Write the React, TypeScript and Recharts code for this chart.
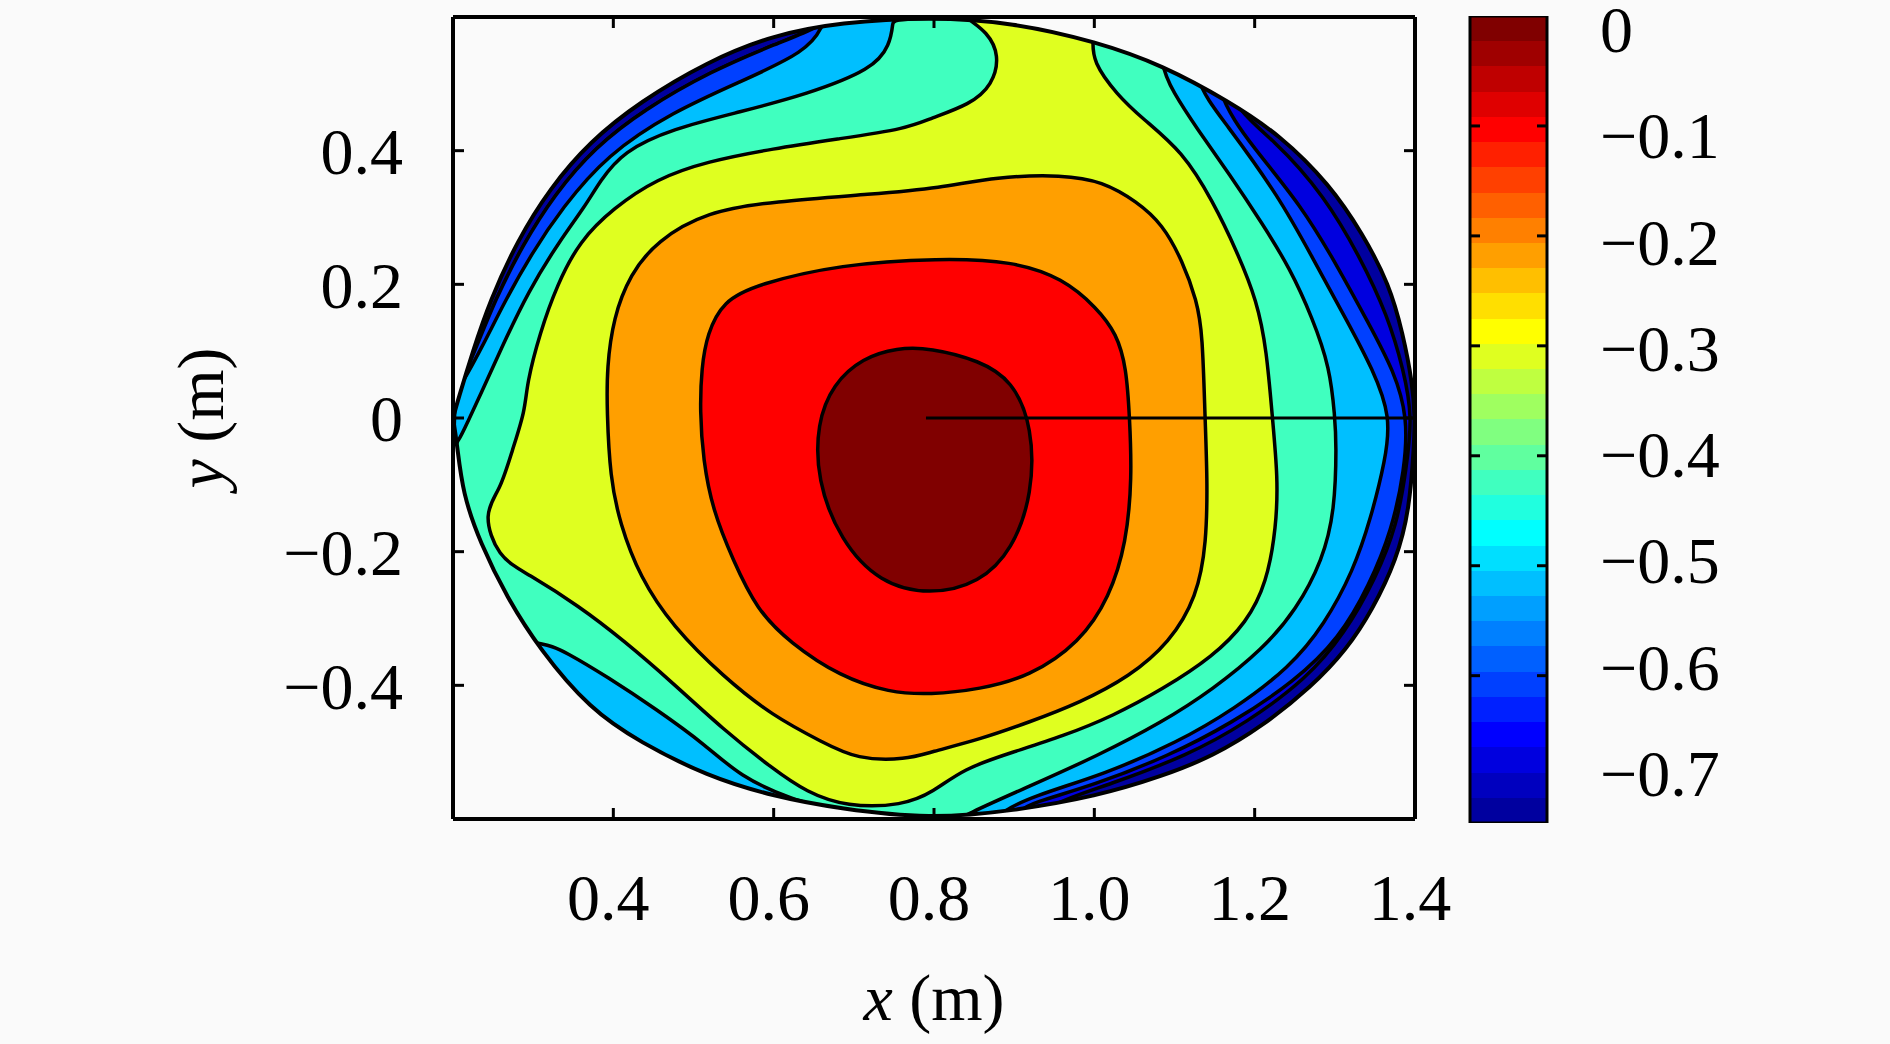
import React from "react";
import { ScatterChart, Scatter, XAxis, YAxis, BarChart, Bar } from "recharts";

// ===== data: contour regions, [x, y] in metres =====
// each region is the area above one contour level; they are painted
// from the outside in, and a paper-coloured mask trims them to the disc.

const rimOutline = [
  [0.2, 0], [0.206, 0.026], [0.225, 0.101], [0.246, 0.175], [0.28, 0.265],
  [0.321, 0.344], [0.371, 0.414], [0.433, 0.473], [0.517, 0.533], [0.599, 0.573],
  [0.683, 0.592], [0.795, 0.6], [0.898, 0.592], [1.003, 0.563], [1.085, 0.528],
  [1.169, 0.473], [1.231, 0.424], [1.294, 0.349], [1.335, 0.275], [1.368, 0.2],
  [1.385, 0.126], [1.397, 0.051], [1.4, 0], [1.399, -0.038], [1.393, -0.138],
  [1.377, -0.212], [1.347, -0.287], [1.315, -0.346], [1.272, -0.401], [1.21, -0.461],
  [1.148, -0.506], [1.085, -0.536], [1.003, -0.566], [0.898, -0.588], [0.795, -0.6],
  [0.683, -0.585], [0.599, -0.566], [0.517, -0.536], [0.433, -0.485], [0.371, -0.436],
  [0.308, -0.346], [0.267, -0.268], [0.234, -0.187], [0.212, -0.113], [0.205, -0.038],
];

const bandDarkBlue = [
  [0.205, 0.038], [0.23, 0.108], [0.252, 0.175], [0.286, 0.257], [0.327, 0.335],
  [0.377, 0.405], [0.439, 0.462], [0.522, 0.519], [0.601, 0.559], [0.662, 0.587],
  [0.662, 0.6], [1.156, 0.6], [1.156, 0.481], [1.227, 0.414], [1.287, 0.332],
  [1.331, 0.242], [1.366, 0.153], [1.386, 0.071], [1.397, 0.001], [1.389, -0.076],
  [1.378, -0.159], [1.351, -0.24], [1.312, -0.323], [1.265, -0.39], [1.19, -0.456],
  [1.116, -0.505], [1.02, -0.548], [0.938, -0.58], [0.938, -0.6], [0.2, -0.6],
  [0.2, 0.038],
];

const bandBlue = [
  [0.205, 0.038], [0.23, 0.108], [0.252, 0.175], [0.286, 0.257], [0.327, 0.335],
  [0.377, 0.405], [0.439, 0.462], [0.522, 0.519], [0.601, 0.559], [0.662, 0.587],
  [0.662, 0.6], [1.148, 0.6], [1.148, 0.488], [1.2, 0.402], [1.258, 0.318],
  [1.302, 0.23], [1.342, 0.142], [1.374, 0.07], [1.391, 0.001], [1.387, -0.078],
  [1.371, -0.168], [1.343, -0.25], [1.306, -0.329], [1.25, -0.394], [1.171, -0.457],
  [1.092, -0.506], [1.0, -0.549], [0.922, -0.576], [0.907, -0.587], [0.907, -0.6],
  [0.2, -0.6], [0.2, 0.038],
];

const bandLightBlue = [
  [0.205, 0.038], [0.236, 0.105], [0.263, 0.171], [0.298, 0.246], [0.336, 0.314],
  [0.392, 0.394], [0.474, 0.458], [0.558, 0.503], [0.641, 0.548], [0.662, 0.587],
  [0.662, 0.6], [1.123, 0.6], [1.123, 0.503], [1.163, 0.443], [1.231, 0.33],
  [1.272, 0.24], [1.314, 0.148], [1.348, 0.072], [1.37, 0.001], [1.363, -0.063],
  [1.345, -0.15], [1.323, -0.229], [1.287, -0.309], [1.244, -0.373], [1.174, -0.436],
  [1.104, -0.485], [1.013, -0.533], [0.922, -0.566], [0.882, -0.591], [0.882, -0.6],
  [0.2, -0.6], [0.2, 0.038],
];

const bandAqua = [
  [0.749, 0.6], [1.082, 0.6], [1.082, 0.529], [1.098, 0.488], [1.128, 0.433],
  [1.169, 0.364], [1.21, 0.29], [1.244, 0.224], [1.272, 0.15], [1.294, 0.075],
  [1.3, 0.001], [1.302, -0.038], [1.3, -0.138], [1.285, -0.212], [1.252, -0.287],
  [1.21, -0.346], [1.148, -0.406], [1.085, -0.455], [1.003, -0.506], [0.919, -0.551],
  [0.836, -0.595], [0.836, -0.6], [0.683, -0.6], [0.683, -0.59], [0.62, -0.57],
  [0.558, -0.536], [0.517, -0.491], [0.454, -0.436], [0.392, -0.387], [0.342, -0.351],
  [0.308, -0.332], [0.2, -0.332], [0.2, -0.038], [0.206, -0.038], [0.219, -0.004],
  [0.234, 0.034], [0.259, 0.101], [0.294, 0.19], [0.333, 0.265], [0.365, 0.317],
  [0.383, 0.354], [0.412, 0.399], [0.474, 0.433], [0.558, 0.458], [0.641, 0.484],
  [0.724, 0.522], [0.745, 0.558], [0.749, 0.592],
];

const bandYellow = [
  [0.842, 0.6], [1.0, 0.6], [0.998, 0.566], [0.998, 0.533], [1.028, 0.484],
  [1.06, 0.448], [1.11, 0.399], [1.148, 0.324], [1.178, 0.249], [1.203, 0.175],
  [1.215, 0.101], [1.222, 0.001], [1.229, -0.089], [1.227, -0.163], [1.215, -0.247],
  [1.19, -0.306], [1.148, -0.357], [1.085, -0.406], [1.023, -0.446], [0.961, -0.476],
  [0.898, -0.5], [0.836, -0.525], [0.799, -0.56], [0.761, -0.58], [0.691, -0.582],
  [0.641, -0.56], [0.599, -0.525], [0.537, -0.466], [0.474, -0.396], [0.412, -0.332],
  [0.358, -0.282], [0.292, -0.232], [0.256, -0.209], [0.237, -0.142], [0.259, -0.108],
  [0.274, -0.048], [0.29, 0.011], [0.292, 0.051], [0.308, 0.126], [0.33, 0.2],
  [0.358, 0.265], [0.4, 0.314], [0.454, 0.358], [0.517, 0.384], [0.599, 0.403],
  [0.683, 0.418], [0.766, 0.433], [0.795, 0.448], [0.845, 0.469], [0.873, 0.498],
  [0.882, 0.543], [0.866, 0.578], [0.842, 0.597],
];

const bandOrange = [
  [0.807, 0.344], [0.878, 0.361], [0.961, 0.364], [1.01, 0.354], [1.053, 0.324],
  [1.085, 0.29], [1.11, 0.235], [1.128, 0.175], [1.135, 0.126], [1.138, 0.001],
  [1.141, -0.089], [1.14, -0.187], [1.128, -0.268], [1.094, -0.336], [1.044, -0.387],
  [0.982, -0.426], [0.919, -0.455], [0.857, -0.481], [0.795, -0.5], [0.766, -0.511],
  [0.704, -0.511], [0.661, -0.485], [0.599, -0.446], [0.537, -0.387], [0.474, -0.312],
  [0.433, -0.238], [0.408, -0.157], [0.396, -0.089], [0.392, 0.011], [0.392, 0.075],
  [0.4, 0.15], [0.421, 0.215], [0.454, 0.265], [0.517, 0.309], [0.599, 0.324],
  [0.724, 0.335],
];

const bandRed = [
  [0.807, 0.239], [0.898, 0.235], [0.961, 0.209], [1.003, 0.165], [1.028, 0.126],
  [1.04, 0.075], [1.044, 0.001], [1.047, -0.089], [1.04, -0.187], [1.019, -0.268],
  [0.982, -0.336], [0.919, -0.387], [0.857, -0.406], [0.795, -0.414], [0.745, -0.411],
  [0.683, -0.387], [0.62, -0.336], [0.579, -0.287], [0.549, -0.212], [0.524, -0.138],
  [0.512, -0.063], [0.508, 0.011], [0.51, 0.075], [0.517, 0.126], [0.537, 0.175],
  [0.579, 0.2], [0.683, 0.23],
];

const bandDarkRed = [
  [0.795, 0.105], [0.857, 0.086], [0.898, 0.056], [0.923, -0.014], [0.923, -0.113],
  [0.898, -0.197], [0.857, -0.247], [0.795, -0.265], [0.732, -0.247], [0.683, -0.183],
  [0.654, -0.093], [0.654, -0.008], [0.674, 0.051], [0.711, 0.09], [0.754, 0.105],
];

const centreLine = [[0.79, 0], [1.4, 0]];

const xTicks = [0.4, 0.6, 0.8, 1.0, 1.2, 1.4];
const yTicks = [-0.4, -0.2, 0, 0.2, 0.4];

// colour bar
const barRange = [-0.734, 0];
const barTicks = [-0.6, -0.5, -0.4, -0.3, -0.2, -0.1];
const barLabels = [0, -0.1, -0.2, -0.3, -0.4, -0.5, -0.6, -0.7];
const labelDomain = [-0.7474, 0.0118];
const jetColors = [
  "#800000", "#9f0000", "#bf0000", "#df0000", "#ff0000", "#ff2000", "#ff4000", "#ff6000",
  "#ff8000", "#ff9f00", "#ffbf00", "#ffdf00", "#ffff00", "#dfff20", "#bfff40", "#9fff60",
  "#80ff80", "#60ff9f", "#40ffbf", "#20ffdf", "#00ffff", "#00dfff", "#00bfff", "#009fff",
  "#0080ff", "#0060ff", "#0040ff", "#0020ff", "#0000ff", "#0000df", "#0000bf", "#00009f",
];

// ===== helpers =====
const FONT = "'Liberation Serif', 'Times New Roman', serif";
const INK = "#000";
const PAPER = "#fafafa";
const XDOM: [number, number] = [0.2, 1.4];
const YDOM: [number, number] = [-0.6, 0.6];

const toPoints = (arr: number[][]) => arr.map(([x, y]) => ({ x, y }));
// a point repeated three times keeps a closed B-spline sharp (and exact) there
const pin = (p: number[]) => [p, p, p];
const noDot = () => <g />;
const blank = () => "";
const fmtX = (v: number) => v.toFixed(1);
const fmtSigned = (v: number) =>
  v === 0 ? "0" : `${v < 0 ? "\u2212" : ""}${Math.abs(v).toFixed(1)}`;

const rimStart = rimOutline[0];
const rimRing = [...pin(rimStart), ...rimOutline.slice(1)];

// plot rectangle with the disc cut out (rim walked the other way round)
const maskRing = [
  ...pin([XDOM[0], YDOM[1]]),
  ...pin([XDOM[1], YDOM[1]]),
  ...pin([XDOM[1], YDOM[0]]),
  ...pin([XDOM[0], YDOM[0]]),
  ...pin(rimStart),
  ...rimOutline.slice(1).reverse(),
  ...pin(rimStart),
];

const bands = [
  { name: "navy", pts: rimRing, fill: "#00009f" },
  { name: "darkBlue", pts: bandDarkBlue, fill: "#0000df" },
  { name: "blue", pts: bandBlue, fill: "#0040ff" },
  { name: "lightBlue", pts: bandLightBlue, fill: "#00bfff" },
  { name: "aqua", pts: bandAqua, fill: "#40ffbf" },
  { name: "yellow", pts: bandYellow, fill: "#dfff20" },
  { name: "orange", pts: bandOrange, fill: "#ff9f00" },
  { name: "red", pts: bandRed, fill: "#ff0000" },
  { name: "darkRed", pts: bandDarkRed, fill: "#800000" },
];

const tickFont = { fill: INK, fontSize: 66, fontFamily: FONT };

const renderXTitle = (props: any) => {
  const vb = props?.viewBox ?? { x: 453, y: 819, width: 962, height: 120 };
  return (
    <text
      x={vb.x + vb.width / 2}
      y={vb.y + 201}
      textAnchor="middle"
      fill={INK}
      fontSize={66}
      fontFamily={FONT}
    >
      <tspan fontStyle="italic">x</tspan>
      {" (m)"}
    </text>
  );
};

const renderYTitle = (props: any) => {
  const vb = props?.viewBox ?? { x: 333, y: 17, width: 120, height: 802 };
  const cx = vb.x - 110;
  const cy = vb.y + vb.height / 2;
  return (
    <text
      x={cx}
      y={cy}
      transform={`rotate(-90 ${cx} ${cy})`}
      textAnchor="middle"
      fill={INK}
      fontSize={66}
      fontFamily={FONT}
    >
      <tspan fontStyle="italic">y</tspan>
      {" (m)"}
    </text>
  );
};

// ===== component =====
export default function App() {
  const barData = [{ name: "scale", range: barRange }];

  return (
    <div
      style={{
        position: "absolute",
        left: 0,
        top: 0,
        width: 1890,
        height: 1044,
        background: PAPER,
        overflow: "hidden",
      }}
    >
      <div style={{ position: "absolute", left: 0, top: 0 }}>
        <ScatterChart
          width={1500}
          height={1044}
          margin={{ top: 7, right: 65, bottom: 105, left: 333 }}
        >
          {bands.map((b) => (
            <Scatter
              key={b.name}
              data={toPoints(b.pts)}
              shape={noDot}
              legendType="none"
              isAnimationActive={false}
              lineJointType="basisClosed"
              line={{
                fill: b.fill,
                stroke: b.name === "navy" ? "none" : INK,
                strokeWidth: 3.5,
                strokeLinejoin: "round",
              }}
            />
          ))}
          <Scatter
            data={toPoints(centreLine)}
            shape={noDot}
            legendType="none"
            isAnimationActive={false}
            line={{ fill: "none", stroke: INK, strokeWidth: 3 }}
          />
          <Scatter
            xAxisId="t"
            yAxisId="r"
            data={toPoints(maskRing)}
            shape={noDot}
            legendType="none"
            isAnimationActive={false}
            lineJointType="basisClosed"
            line={{ fill: PAPER, stroke: "none", fillRule: "evenodd" }}
          />
          <Scatter
            data={toPoints(rimRing)}
            shape={noDot}
            legendType="none"
            isAnimationActive={false}
            lineJointType="basisClosed"
            line={{ fill: "none", stroke: INK, strokeWidth: 4, strokeLinejoin: "round" }}
          />

          <XAxis
            xAxisId={0}
            type="number"
            dataKey="x"
            domain={XDOM}
            allowDataOverflow
            ticks={xTicks}
            interval={0}
            height={120}
            tickSize={-11}
            tickMargin={65}
            tickFormatter={fmtX}
            tick={{ ...tickFont, dx: -5 }}
            axisLine={{ stroke: INK, strokeWidth: 4 }}
            tickLine={{ stroke: INK, strokeWidth: 3 }}
            label={renderXTitle}
            zIndex={700}
          />
          <XAxis
            xAxisId="t"
            orientation="top"
            type="number"
            dataKey="x"
            domain={XDOM}
            allowDataOverflow
            ticks={xTicks}
            interval={0}
            height={10}
            tickSize={-11}
            tickFormatter={blank}
            axisLine={{ stroke: INK, strokeWidth: 4 }}
            tickLine={{ stroke: INK, strokeWidth: 3 }}
            zIndex={700}
          />
          <YAxis
            yAxisId={0}
            type="number"
            dataKey="y"
            domain={YDOM}
            allowDataOverflow
            ticks={yTicks}
            interval={0}
            width={120}
            tickSize={-11}
            tickMargin={61}
            tickFormatter={fmtSigned}
            tick={tickFont}
            axisLine={{ stroke: INK, strokeWidth: 4 }}
            tickLine={{ stroke: INK, strokeWidth: 3 }}
            label={renderYTitle}
            zIndex={700}
          />
          <YAxis
            yAxisId="r"
            orientation="right"
            type="number"
            dataKey="y"
            domain={YDOM}
            allowDataOverflow
            ticks={yTicks}
            interval={0}
            width={20}
            tickSize={-11}
            tickFormatter={blank}
            axisLine={{ stroke: INK, strokeWidth: 4 }}
            tickLine={{ stroke: INK, strokeWidth: 3 }}
            zIndex={700}
          />
        </ScatterChart>
      </div>

      <div style={{ position: "absolute", left: 1400, top: 0 }}>
        <BarChart
          width={400}
          height={1044}
          data={barData}
          margin={{ top: 16, right: 52, bottom: 221, left: 60 }}
          barCategoryGap={0}
        >
          <defs>
            <linearGradient id="jetBar" x1="0" y1="0" x2="0" y2="1">
              {jetColors.flatMap((c, i) => [
                <stop key={`a${i}`} offset={i / jetColors.length} stopColor={c} />,
                <stop key={`b${i}`} offset={(i + 1) / jetColors.length} stopColor={c} />,
              ])}
            </linearGradient>
          </defs>
          <XAxis dataKey="name" hide />
          <YAxis
            yAxisId="cbt"
            orientation="left"
            type="number"
            domain={barRange}
            allowDataOverflow
            ticks={barTicks}
            interval={0}
            width={10}
            tickSize={-10}
            tickFormatter={blank}
            axisLine={false}
            tickLine={{ stroke: INK, strokeWidth: 3 }}
          />
          <YAxis
            yAxisId="cbr"
            orientation="right"
            type="number"
            domain={barRange}
            allowDataOverflow
            ticks={barTicks}
            interval={0}
            width={1}
            tickSize={-10}
            tickFormatter={blank}
            axisLine={false}
            tickLine={{ stroke: INK, strokeWidth: 3 }}
          />
          <YAxis
            yAxisId="lab"
            orientation="right"
            type="number"
            domain={labelDomain}
            allowDataOverflow
            ticks={barLabels}
            interval={0}
            width={200}
            tickSize={0}
            tickMargin={52}
            tickLine={false}
            axisLine={false}
            tickFormatter={fmtSigned}
            tick={tickFont}
          />
          <Bar
            yAxisId="cbt"
            dataKey="range"
            fill="url(#jetBar)"
            stroke={INK}
            strokeWidth={3}
            isAnimationActive={false}
          />
        </BarChart>
      </div>
    </div>
  );
}
